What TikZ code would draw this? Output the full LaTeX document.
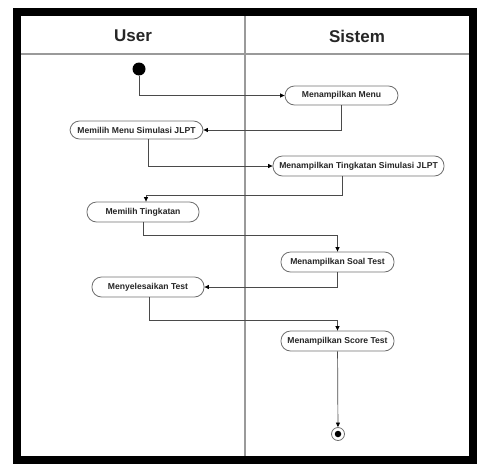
\documentclass[tikz,border=0pt]{standalone}
\usepackage{fontspec}
\setmainfont{Liberation Sans}
\usetikzlibrary{arrows.meta,calc}
\definecolor{lanegray}{HTML}{9A9A9A}
\definecolor{linegray}{HTML}{4A4A4A}
\definecolor{boxgray}{HTML}{707070}
\tikzset{
  act/.style={draw=boxgray, line width=0.8pt, rounded corners=9.5pt, fill=white,
    inner sep=0pt, font=\fontsize{8.6}{10}\selectfont\bfseries, text=black!85},
  flow/.style={draw=linegray, line width=0.7pt, -{Triangle[length=4.5pt,width=4pt,color=black]}},
  lanehead/.style={font=\fontsize{17}{20}\selectfont\bfseries, text=black!85}
}
\begin{document}
\begin{tikzpicture}[x=1pt,y=-1pt]
\useasboundingbox (0,0) rectangle (478,463);
% frame
\draw[lanegray, line width=1.2pt] (21,54) -- (469,54);
\draw[lanegray, line width=1.2pt] (245,16) -- (245,457);
\draw[line width=8pt] (17,12) rectangle (473,460);
\node[lanehead] (huser) at (133,36) {User};
\node[lanehead] (hsis) at (357,36) {Sistem};
% nodes
\node[circle, fill=black, minimum size=13pt, inner sep=0pt] (start) at (139,69) {};
\node[act, minimum width=113pt, minimum height=19pt] (menu) at (341.5,95.5) {Menampilkan Menu};
\node[act, minimum width=133pt, minimum height=18pt] (mmj) at (136.5,130) {Memilih Menu Simulasi JLPT};
\node[act, minimum width=171pt, minimum height=20pt] (mts) at (358.5,166) {Menampilkan Tingkatan Simulasi JLPT};
\node[act, minimum width=112pt, minimum height=20pt] (mt) at (143,212) {Memilih Tingkatan};
\node[act, minimum width=113pt, minimum height=20pt] (mst) at (337.5,262) {Menampilkan Soal Test};
\node[act, minimum width=112pt, minimum height=20pt] (mtest) at (148,287) {Menyelesaikan Test};
\node[act, minimum width=113pt, minimum height=20pt] (mscore) at (337.5,341) {Menampilkan Score Test};
\node[circle, draw=boxgray, line width=0.8pt, minimum size=13pt, inner sep=0pt] (end) at (338,434) {};
\node[circle, fill=black, minimum size=6.5pt, inner sep=0pt] (endin) at (end) {};
% connectors
\draw[flow] (start) |- (menu);
\draw[flow] (menu) |- (mmj);
\draw[flow] ($(mmj.south)+(11.5,0)$) |- (mts);
\draw[flow] ($(mts.south)+(-16.5,0)$) -- ++(0,19) -| ($(mt.north)+(3,0)$);
\draw[flow] (mt.south) -- ++(0,13) -| (mst.north);
\draw[flow] (mst) |- (mtest);
\draw[flow] ($(mtest.south)+(1,0)$) -- ++(0,23) -| (mscore.north);
\draw[flow] (mscore) -- (end);
\end{tikzpicture}
\end{document}
